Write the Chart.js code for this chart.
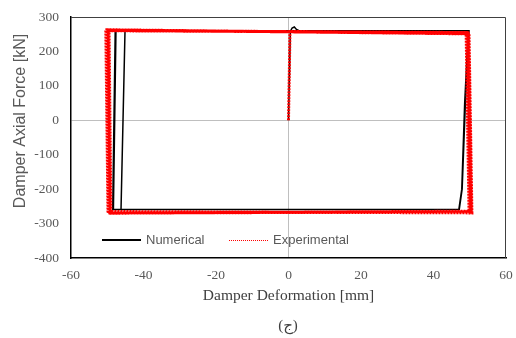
<!DOCTYPE html>
<html>
<head>
<meta charset="utf-8">
<script src="https://cdn.jsdelivr.net/npm/chart.js@4.4.1/dist/chart.umd.min.js"></script>
<style>
  html, body { margin: 0; padding: 0; background: #ffffff; }
  canvas { display: block; }
</style>
</head>
<body>
<canvas id="chart" width="516" height="338"></canvas>
<script>
// Axis ranges and ticks
const xTicks = [-60, -40, -20, 0, 20, 40, 60];
const yTicks = [-400, -300, -200, -100, 0, 100, 200, 300];

// Numerical model: damper deformation [mm] and axial force [kN]
const numX = [0, 0.5, 1.0, 1.6, 2.2, 2.8, 49.6, 48.6, 47.8, 47.0, -48.5, -47.8,
              49.8, 48.8, 47.9, 47.1, -48.3, -47.6,
              49.7, 48.7, 47.8, 47.0, -46.2, -45.1];
const numY = [0, 258, 268, 271, 264, 261, 260, 50, -200, -259, -259, 260,
              260, 50, -200, -259, -259, 260,
              260, 50, -200, -259, -259, 260];

// Test results: damper deformation [mm] and axial force [kN]
const expX = [0, 0.2, 0.4,
              49.2, 50.0, -49.3, -49.8,
              49.6, 50.4, -49.0, -49.5,
              49.0, 49.8, -49.6, -50.1,
              49.8, 50.6, -49.2, -49.7,
              49.4, 50.2, -49.8, -50.4,
              49.6, 50.3];
const expY = [0, 120, 258,
              253, -266, -268, 262,
              252, -268, -266, 260,
              255, -264, -270, 263,
              251, -269, -265, 261,
              254, -267, -269, 262,
              253, -267];

const toPoints = (xs, ys) => xs.map((x, i) => ({ x: x, y: ys[i] }));

const legendItems = [
  { label: 'Numerical', color: '#000000', width: 2, dash: [] },
  { label: 'Experimental', color: '#ff0000', width: 1, dash: [1, 1] }
];

// Frame, in-plot legend, vertical axis title and caption
const decorations = {
  id: 'decorations',
  afterDraw(chart) {
    const { ctx, chartArea: a } = chart;
    ctx.save();
    // top and right edges of the plot frame
    ctx.strokeStyle = '#404040';
    ctx.lineWidth = 1;
    ctx.beginPath();
    ctx.moveTo(a.left, a.top + 0.5);
    ctx.lineTo(a.right - 0.5, a.top + 0.5);
    ctx.lineTo(a.right - 0.5, a.bottom);
    ctx.stroke();

    // legend
    const ly = 240;
    const starts = [102, 229];
    legendItems.forEach((it, i) => {
      const x0 = starts[i];
      const yy = it.width % 2 ? ly + 0.5 : ly;
      ctx.strokeStyle = it.color;
      ctx.lineWidth = it.width;
      ctx.setLineDash(it.dash);
      ctx.beginPath();
      ctx.moveTo(x0, yy);
      ctx.lineTo(x0 + 39, yy);
      ctx.stroke();
      ctx.setLineDash([]);
      ctx.fillStyle = '#595959';
      ctx.font = '13px "Liberation Sans", Arial, sans-serif';
      ctx.textAlign = 'left';
      ctx.textBaseline = 'middle';
      ctx.fillText(it.label, x0 + 44, ly);
    });

    // vertical axis title
    ctx.save();
    ctx.translate(21, 121);
    ctx.rotate(-Math.PI / 2);
    ctx.fillStyle = '#595959';
    ctx.font = '16px "Liberation Sans", Arial, sans-serif';
    ctx.textAlign = 'center';
    ctx.textBaseline = 'middle';
    ctx.fillText('Damper Axial Force [kN]', 0, 0);
    ctx.restore();

    // caption
    ctx.fillStyle = '#404040';
    ctx.font = '15px "Liberation Serif", "DejaVu Sans", serif';
    ctx.textAlign = 'center';
    ctx.textBaseline = 'middle';
    ctx.fillText('(ج)', 288, 326);
    ctx.restore();
  }
};

const zeroLine = (c) => (c.tick && c.tick.value === 0) ? '#bfbfbf' : 'rgba(0,0,0,0)';

new Chart(document.getElementById('chart'), {
  type: 'scatter',
  data: {
    datasets: [
      {
        label: 'Experimental',
        data: toPoints(expX, expY),
        showLine: true,
        borderColor: '#ff0000',
        borderWidth: 3,
        borderDash: [2, 1],
        pointRadius: 0,
        fill: false,
        order: 0
      },
      {
        label: 'Numerical',
        data: toPoints(numX, numY),
        showLine: true,
        borderColor: '#000000',
        borderWidth: 1.5,
        pointRadius: 0,
        fill: false,
        order: 1
      }
    ]
  },
  options: {
    responsive: false,
    animation: false,
    devicePixelRatio: 1,
    layout: { padding: { top: 17, right: 10, left: 0, bottom: 0 } },
    plugins: {
      legend: { display: false },
      tooltip: { enabled: false }
    },
    scales: {
      x: {
        type: 'linear',
        min: -60,
        max: 60,
        afterBuildTicks: (s) => { s.ticks = xTicks.map(v => ({ value: v })); },
        afterFit: (s) => { s.height = 80; s.paddingLeft = 0; s.paddingRight = 0; },
        grid: { color: zeroLine, lineWidth: 1, drawTicks: false },
        border: { display: true, color: '#000000', width: 1.5 },
        ticks: {
          padding: 9,
          color: '#595959',
          font: { family: '"Liberation Serif", "Times New Roman", serif', size: 13.5 }
        },
        title: {
          display: true,
          text: 'Damper Deformation [mm]',
          color: '#404040',
          font: { family: '"Liberation Serif", "Times New Roman", serif', size: 15.5 },
          padding: { top: 0, bottom: 33 }
        }
      },
      y: {
        type: 'linear',
        min: -400,
        max: 300,
        afterBuildTicks: (s) => { s.ticks = yTicks.map(v => ({ value: v })); },
        afterFit: (s) => { s.width = 71; s.paddingTop = 0; s.paddingBottom = 0; },
        grid: { color: zeroLine, lineWidth: 1, drawTicks: false },
        border: { display: true, color: '#000000', width: 1.5 },
        ticks: {
          padding: 12,
          color: '#595959',
          font: { family: '"Liberation Serif", "Times New Roman", serif', size: 13.5 }
        }
      }
    }
  },
  plugins: [decorations]
});
</script>
</body>
</html>
